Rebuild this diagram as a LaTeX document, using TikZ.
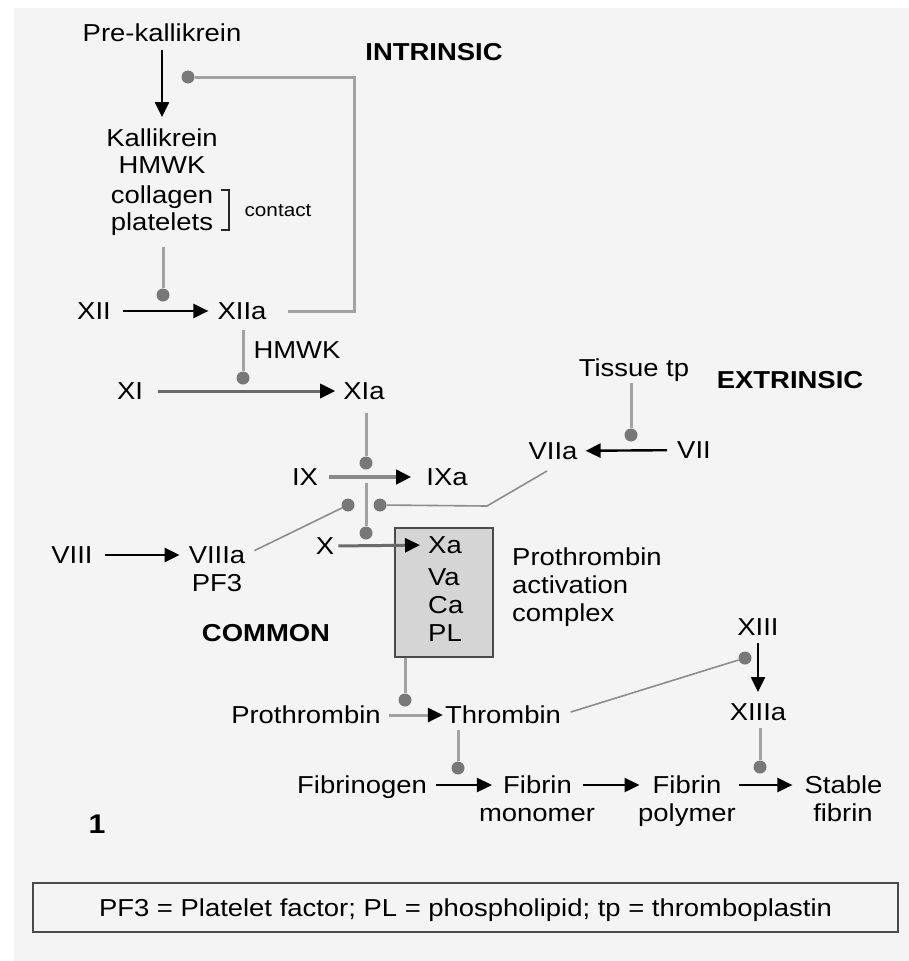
\documentclass[tikz,border=0pt]{standalone}
\usepackage{fontspec}
\setmainfont{Liberation Sans}[FakeStretch=1.12]
\usetikzlibrary{arrows.meta,calc}
\definecolor{bgc}{HTML}{F4F4F4}
\definecolor{linec}{HTML}{A2A2A2}
\definecolor{darkl}{HTML}{6A6A6A}
\definecolor{thinc}{HTML}{8C8C8C}
\definecolor{dotc}{HTML}{787878}
\definecolor{boxf}{HTML}{D5D5D5}
\definecolor{boxb}{HTML}{4A4A4A}
\begin{document}
\begin{tikzpicture}[x=1pt,y=-1pt,
  lbl/.style={inner sep=0pt, text height=17.5pt, text depth=0pt, font=\fontsize{24.5}{28}\selectfont},
  bld/.style={lbl, font=\fontsize{24.5}{28}\selectfont\bfseries},
  small/.style={inner sep=0pt, text height=13pt, text depth=0pt, font=\fontsize{18.5}{22}\selectfont},
  dot/.style={circle, fill=dotc, inner sep=0pt, minimum size=13pt},
  gl/.style={draw=linec, line width=3pt},
  thinl/.style={draw=thinc, line width=1.6pt},
  barr/.style={draw=black, line width=2.4pt, -{Triangle[length=15pt,width=14pt]}},
  garr/.style={draw=darkl, line width=3pt, -{Triangle[length=15pt,width=14pt,color=black]}}
]
% background
\useasboundingbox (0,0) rectangle (909,961);
\fill[white] (0,0) rectangle (909,961);
\fill[bgc] (14,8) rectangle (909,961);

% ---- intrinsic
\node[lbl] (prek) at (162,33) {Pre-kallikrein};
\node[bld] (intr) at (434,52) {INTRINSIC};
\node[lbl] (kall) at (162,138) {Kallikrein};
\node[lbl] (hmwka) at (162,165) {HMWK};
\node[lbl] (coll) at (162,195) {collagen};
\node[lbl] (plat) at (162,222) {platelets};
\draw[line width=1.8pt, black!85] (221,190) -- (229,190) -- (229,230) -- (221,230);
\node[small] (contact) at (278,210) {contact};
\node[dot] (fbdot) at (188,77) {};
\coordinate (fbR) at (354,77);

\node[dot] (d1) at (163,295) {};
\node[lbl] (XII) at (94,311) {XII};
\node[lbl] (XIIa) at (242,311) {XIIa};
\node[lbl] (hmwkb) at (297,350) {HMWK};
\node[dot] (d2) at (243,378) {};
\node[lbl] (XI) at (130,391) {XI};
\node[lbl] (XIa) at (364,391) {XIa};
\node[dot] (d3) at (366,463) {};
\node[lbl] (IX) at (305,477) {IX};
\node[lbl] (IXa) at (447,477) {IXa};
\node[dot] (dL) at (348,505) {};
\node[dot] (dR) at (380,505) {};
\coordinate (jtop) at (366,483);
\coordinate (bend) at (487,506);
\node[dot] (d4) at (366,533) {};
\node[lbl] (X) at (325,546) {X};
\node[lbl] (VIII) at (72,555) {VIII};
\node[lbl] (VIIIa) at (217,555) {VIIIa};
\node[lbl] (PF3) at (217,583) {PF3};
\node[bld] (common) at (266,633) {COMMON};

% ---- box
\node[draw=boxb, line width=2pt, fill=boxf, minimum width=98pt, minimum height=129pt, inner sep=0pt] (box) at (444,592.5) {};
\node[lbl, anchor=west] (Xa) at (428,545) {Xa};
\node[lbl, anchor=west] (Va) at (428,577) {Va};
\node[lbl, anchor=west] (Ca) at (428,605) {Ca};
\node[lbl, anchor=west] (PL) at (428,633) {PL};
\node[lbl, anchor=west] (pac1) at (512,557) {Prothrombin};
\node[lbl, anchor=west] (pac2) at (512,585) {activation};
\node[lbl, anchor=west] (pac3) at (512,613) {complex};

% ---- extrinsic
\node[bld] (extr) at (790,380) {EXTRINSIC};
\node[lbl] (tissue) at (634,368) {Tissue tp};
\node[dot] (d5) at (631,435) {};
\node[lbl] (VII) at (694,450) {VII};
\node[lbl] (VIIa) at (553,451) {VIIa};

% ---- common
\node[lbl] (XIII) at (758,627) {XIII};
\node[dot] (d6) at (745,658) {};
\node[lbl] (XIIIa) at (758,712) {XIIIa};
\node[lbl] (prot) at (306,715) {Prothrombin};
\node[lbl] (thromb) at (503,715) {Thrombin};
\node[dot] (d7) at (405,700) {};
\node[dot] (d8) at (458,768) {};
\node[dot] (d9) at (760,767) {};
\node[lbl] (fibg) at (362,785) {Fibrinogen};
\node[lbl] (fib1) at (537.5,785) {Fibrin};
\node[lbl] (mono) at (537,813) {monomer};
\node[lbl] (fib2) at (687,785) {Fibrin};
\node[lbl] (poly) at (687,813) {polymer};
\node[lbl] (stab) at (843.5,785) {Stable};
\node[lbl] (sfib) at (843,813) {fibrin};
\node[bld, font=\fontsize{27}{30}\selectfont\bfseries] (one) at (97,825) {1};

\node[lbl, draw=boxb, line width=2pt, minimum width=865pt, minimum height=49pt] (foot) at (465.5,907.5)
  {PF3 = Platelet factor; PL = phospholipid; tp = thromboplastin};

% ---- connectors
\draw[barr, shorten <=8pt, shorten >=12pt] (prek) -- (kall);
\draw[gl, shorten <=21pt] (XIIa.east) -- (fbR |- XIIa.east) -- (fbR) -- (fbdot);
\draw[gl, shorten <=16pt] (plat.south -| d1) -- (d1);
\draw[barr, shorten <=12pt, shorten >=9pt] (XII) -- (XIIa);
\draw[gl, shorten <=10pt] (XIIa.south -| d2) -- (d2);
\draw[garr, shorten <=15pt, shorten >=8pt] (XI) -- (XIa);
\draw[gl, shorten <=13pt] (XIa.south -| d3) -- (d3);
\draw[garr, draw=darkl!80, line width=4pt, shorten <=11pt, shorten >=15pt] (IX) -- (IXa);
\draw[gl] (jtop) -- (d4);
\draw[garr, shorten <=4pt, shorten >=8pt] (X.east) -- (Xa.west);
\draw[thinl, shorten <=10pt] (VIIIa.east) -- (dL);
\draw[thinl] ([shift={(-6,20)}]VIIa.center) -- (bend) -- (dR);
\draw[barr, shorten <=12pt, shorten >=9pt] (VIII) -- (VIIIa);
\draw[gl, shorten <=6pt] (tissue.south -| d5) -- (d5);
\draw[barr, shorten <=10pt, shorten >=8pt] (VII) -- (VIIa);
\draw[gl] (box.south -| d7) -- (d7);
\draw[garr, draw=linec, shorten <=8pt, shorten >=2pt] (prot) -- (thromb);
\draw[thinl, shorten <=10pt] (thromb.east) -- (d6);
\draw[gl, shorten <=6pt] (thromb.south -| d8) -- (d8);
\draw[barr, shorten <=9pt, shorten >=11pt] (fibg) -- (fib1);
\draw[barr, shorten <=11pt, shorten >=13pt] (fib1) -- (fib2);
\draw[barr, shorten <=17pt, shorten >=12pt] (fib2) -- (stab);
\draw[barr, shorten <=7pt, shorten >=11pt] (XIII.south -| XIIIa) -- (XIIIa);
\draw[gl, shorten <=7pt] (XIIIa.south -| d9) -- (d9);
\end{tikzpicture}
\end{document}
